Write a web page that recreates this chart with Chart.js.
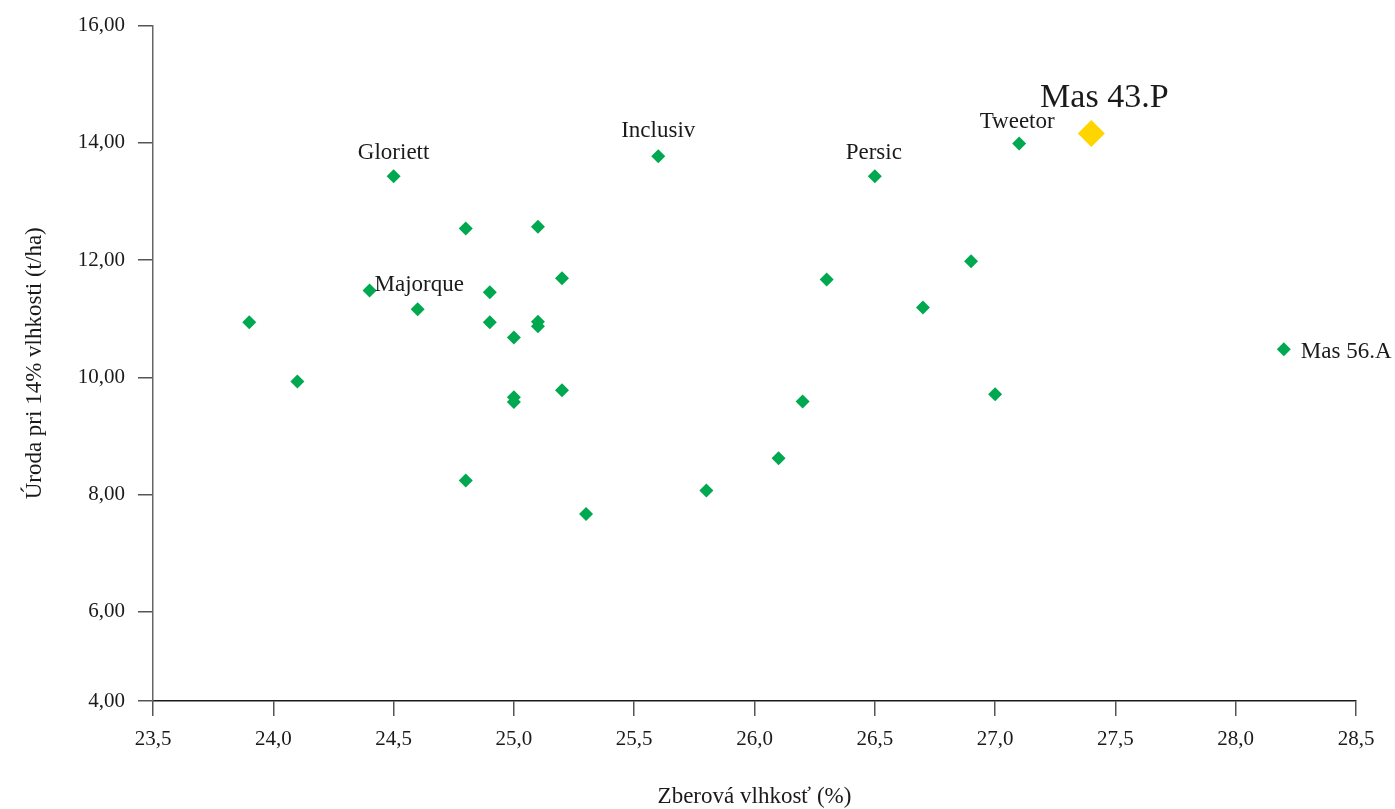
<!DOCTYPE html>
<html>
<head>
<meta charset="utf-8">
<title>Zberová vlhkosť a úroda</title>
<script src="https://cdn.jsdelivr.net/npm/chart.js@4.4.0/dist/chart.umd.min.js"></script>
<style>
    html, body { margin: 0; padding: 0; background: #fff; }
    #wrap { width: 1395px; height: 809px; }
</style>
</head>
<body>
<div id="wrap"><canvas id="chart" width="1395" height="809"></canvas></div>
<script>
// Varieties: harvest moisture (%) and yield at 14% moisture (t/ha)
const moisture = [23.9, 24.1, 24.4, 24.5, 24.6, 24.8, 24.8, 24.9, 24.9, 25.0,
                  25.0, 25.0, 25.1, 25.1, 25.1, 25.2, 25.2, 25.3, 25.6, 25.8,
                  26.1, 26.2, 26.3, 26.5, 26.7, 26.9, 27.0, 27.1, 28.2];
const yieldT   = [10.94, 9.93, 11.48, 13.43, 11.16, 12.54, 8.24, 11.45, 10.94, 10.68,
                  9.66, 9.58, 12.57, 10.95, 10.87, 11.69, 9.78, 7.67, 13.77, 8.07,
                  8.62, 9.59, 11.67, 13.43, 11.19, 11.98, 9.71, 13.99, 10.48];
const names    = ['', '', 'Majorque', 'Gloriett', '', '', '', '', '', '',
                  '', '', '', '', '', '', '', '', 'Inclusiv', '',
                  '', '', '', 'Persic', '', '', '', 'Tweetor', 'Mas 56.A'];

// highlighted variety
const highlightNames = ['Mas 43.P'];
const highlightMoisture = [27.4];
const highlightYield = [14.16];

// axis ticks
const xTickValues = [23.5, 24.0, 24.5, 25.0, 25.5, 26.0, 26.5, 27.0, 27.5, 28.0, 28.5];
const yTickValues = [4.48, 6, 8, 10, 12, 14, 16];
const yTickLabels = ['4,00', '6,00', '8,00', '10,00', '12,00', '14,00', '16,00'];

const FONT = "'Liberation Serif', 'DejaVu Serif', serif";

// where each name sits relative to its point: [dx, dy, align, size]
const labelPlace = {
    'Majorque': [5, -6, 'left', 23],
    'Gloriett': [0, -23, 'center', 23],
    'Inclusiv': [0, -25, 'center', 23],
    'Persic': [-1, -23, 'center', 23],
    'Tweetor': [-2, -21, 'center', 23],
    'Mas 56.A': [17, 3, 'left', 23],
    'Mas 43.P': [13, -35, 'center', 34]
};

const toPoints = (xs, ys) => xs.map((x, i) => ({ x: x, y: ys[i] }));

const pointNames = {
    id: 'pointNames',
    afterDatasetsDraw(chart) {
        const ctx = chart.ctx;
        ctx.save();
        ctx.fillStyle = '#1a1a1a';
        ctx.textBaseline = 'middle';
        chart.data.datasets.forEach((ds, di) => {
            const meta = chart.getDatasetMeta(di);
            meta.data.forEach((pt, i) => {
                const name = ds.names[i];
                if (!name) return;
                const p = labelPlace[name] || [0, -23, 'center', 23];
                ctx.font = p[3] + 'px ' + FONT;
                ctx.textAlign = p[2];
                ctx.fillText(name, pt.x + p[0], pt.y + p[1]);
            });
        });
        ctx.restore();
    }
};

new Chart(document.getElementById('chart').getContext('2d'), {
    type: 'scatter',
    data: {
        datasets: [{
            data: toPoints(moisture, yieldT),
            names: names,
            pointStyle: 'rectRot',
            pointRadius: 7,
            pointHoverRadius: 7,
            borderWidth: 0,
            backgroundColor: '#00a84f'
        }, {
            data: toPoints(highlightMoisture, highlightYield),
            names: highlightNames,
            pointStyle: 'rectRot',
            pointRadius: 13.5,
            pointHoverRadius: 13.5,
            borderWidth: 0,
            backgroundColor: '#ffd500'
        }]
    },
    options: {
        responsive: false,
        animation: false,
        layout: { padding: { top: 25, right: 39, bottom: 0, left: 0 } },
        plugins: {
            legend: { display: false },
            tooltip: { enabled: false }
        },
        scales: {
            x: {
                type: 'linear',
                min: 23.5,
                max: 28.5,
                afterBuildTicks: (scale) => { scale.ticks = xTickValues.map(v => ({ value: v })); },
                afterFit: (scale) => { scale.height = 108; },
                grid: { drawOnChartArea: false, drawTicks: true, tickLength: 15, tickColor: '#555', lineWidth: 1.5 },
                border: { color: '#1a1a1a', width: 1.5 },
                ticks: {
                    padding: 11,
                    color: '#1a1a1a',
                    font: { family: FONT, size: 21 },
                    maxRotation: 0,
                    callback: (v) => v.toFixed(1).replace('.', ',')
                },
                title: {
                    display: true,
                    text: 'Zberová vlhkosť (%)',
                    color: '#1a1a1a',
                    font: { family: FONT, size: 23 },
                    padding: { top: 0, bottom: -2 }
                }
            },
            y: {
                type: 'linear',
                min: 4.48,
                max: 16,
                afterBuildTicks: (scale) => { scale.ticks = yTickValues.map(v => ({ value: v })); },
                afterFit: (scale) => { scale.width = 153; },
                grid: { drawOnChartArea: false, drawTicks: true, tickLength: 15, tickColor: '#555', lineWidth: 1.5 },
                border: { color: '#666', width: 1.5 },
                ticks: {
                    padding: 13,
                    color: '#1a1a1a',
                    font: { family: FONT, size: 21 },
                    callback: (v, i) => yTickLabels[i]
                },
                title: {
                    display: true,
                    text: 'Úroda pri 14% vlhkosti (t/ha)',
                    color: '#1a1a1a',
                    font: { family: FONT, size: 23 },
                    padding: { top: 21, bottom: 0 }
                }
            }
        }
    },
    plugins: [pointNames]
});
</script>
</body>
</html>
